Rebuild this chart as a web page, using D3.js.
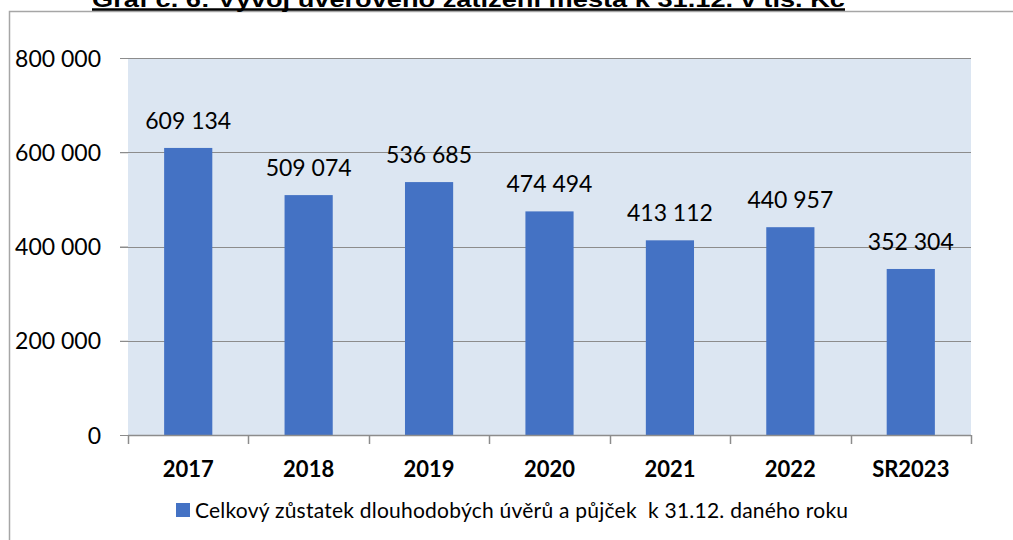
<!DOCTYPE html>
<html>
<head>
<meta charset="utf-8">
<script src="https://cdn.jsdelivr.net/npm/d3@7"></script>
<style>
  body { margin: 0; background: #fff; }
  svg text { font-family: Lato, "Open Sans", sans-serif; fill: #000; }
</style>
</head>
<body>
<div id="chart"></div>
<script>
const categories = ['2017', '2018', '2019', '2020', '2021', '2022', 'SR2023'];
const values = [609134, 509074, 536685, 474494, 413112, 440957, 352304];
const yTicks = [0, 200000, 400000, 600000, 800000];
const seriesName = 'Celkový zůstatek dlouhodobých úvěrů a půjček  k 31.12. daného roku';
const title = 'Graf č. 6: Vývoj úvěrového zatížení města k 31.12. v tis. Kč';

const W = 1013, H = 540;
const plot = { left: 128, right: 971, top: 58, bottom: 435 };

const fmt = v => d3.format(',')(v).replace(/,/g, ' ');

const svg = d3.select('#chart').append('svg')
  .attr('width', W)
  .attr('height', H);

// frame
svg.append('path')
  .attr('d', `M9.5,${H} V11.5 H${W}`)
  .attr('fill', 'none')
  .attr('stroke', '#a6a6a6')
  .attr('stroke-width', 1.5);

// title (cut off at top like the source)
svg.append('text')
  .attr('x', 92)
  .attr('y', 7)
  .attr('textLength', 753)
  .attr('lengthAdjust', 'spacingAndGlyphs')
  .style('font-family', '"Liberation Sans Narrow", "Liberation Sans", Arial, sans-serif')
  .style('font-weight', 'bold')
  .style('font-size', '22px')
  .text(title);
svg.append('line')
  .attr('x1', 92).attr('x2', 845)
  .attr('y1', 9.5).attr('y2', 9.5)
  .attr('stroke', '#000')
  .attr('stroke-width', 2.5);

const x = d3.scaleBand()
  .domain(categories)
  .range([plot.left, plot.right])
  .paddingInner(0.6)
  .paddingOuter(0.3);

const y = d3.scaleLinear()
  .domain([0, 800000])
  .range([plot.bottom, plot.top]);

// plot background
svg.append('rect')
  .attr('x', plot.left)
  .attr('y', plot.top)
  .attr('width', plot.right - plot.left)
  .attr('height', plot.bottom - plot.top)
  .attr('fill', '#dce6f2');

// gridlines
svg.selectAll('.grid')
  .data(yTicks.filter(d => d > 0))
  .enter()
  .append('line')
  .attr('x1', plot.left - 8)
  .attr('x2', plot.right)
  .attr('y1', d => Math.round(y(d)) + 0.5)
  .attr('y2', d => Math.round(y(d)) + 0.5)
  .attr('stroke', '#8c8c8c')
  .attr('stroke-width', 1);

// bars
svg.selectAll('.bar')
  .data(values)
  .enter()
  .append('rect')
  .attr('x', (d, i) => x(categories[i]))
  .attr('y', d => y(d))
  .attr('width', x.bandwidth())
  .attr('height', d => y(0) - y(d))
  .attr('fill', '#4472c4');

// data labels
svg.selectAll('.val')
  .data(values)
  .enter()
  .append('text')
  .attr('x', (d, i) => x(categories[i]) + x.bandwidth() / 2)
  .attr('y', d => y(d) - 19)
  .attr('text-anchor', 'middle')
  .style('font-size', '23px')
  .text(d => fmt(d));

// y axis
const yAxis = svg.append('g')
  .attr('transform', `translate(${plot.left},0)`)
  .call(d3.axisLeft(y).tickValues(yTicks).tickSize(8).tickPadding(19).tickFormat(fmt));
yAxis.select('.domain').remove();
yAxis.selectAll('.tick line').attr('stroke', '#8c8c8c');
yAxis.selectAll('.tick text')
  .style('font-family', 'Lato, sans-serif')
  .style('font-size', '23px')
  .attr('dy', '0.35em');

// x axis: ticks at band boundaries
const step = x.step();
const bounds = d3.range(categories.length + 1).map(i => plot.left + i * step);
svg.append('line')
  .attr('x1', plot.left).attr('x2', plot.right)
  .attr('y1', plot.bottom + 0.5).attr('y2', plot.bottom + 0.5)
  .attr('stroke', '#8c8c8c')
  .attr('stroke-width', 1.5);
svg.selectAll('.xtick')
  .data(bounds)
  .enter()
  .append('line')
  .attr('x1', d => Math.round(d) + 0.5)
  .attr('x2', d => Math.round(d) + 0.5)
  .attr('y1', plot.bottom)
  .attr('y2', plot.bottom + 9)
  .attr('stroke', '#8c8c8c')
  .attr('stroke-width', 1.5);
svg.selectAll('.xlab')
  .data(categories)
  .enter()
  .append('text')
  .attr('x', d => x(d) + x.bandwidth() / 2)
  .attr('y', 477)
  .attr('text-anchor', 'middle')
  .style('font-size', '22px')
  .style('font-weight', 'bold')
  .text(d => d);

// legend
svg.append('rect')
  .attr('x', 176).attr('y', 503)
  .attr('width', 14).attr('height', 14)
  .attr('fill', '#4472c4');
svg.append('text')
  .attr('x', 195)
  .attr('y', 518)
  .attr('textLength', 653)
  .attr('lengthAdjust', 'spacing')
  .style('white-space', 'pre')
  .style('font-size', '21px')
  .text(seriesName);
</script>
</body>
</html>
